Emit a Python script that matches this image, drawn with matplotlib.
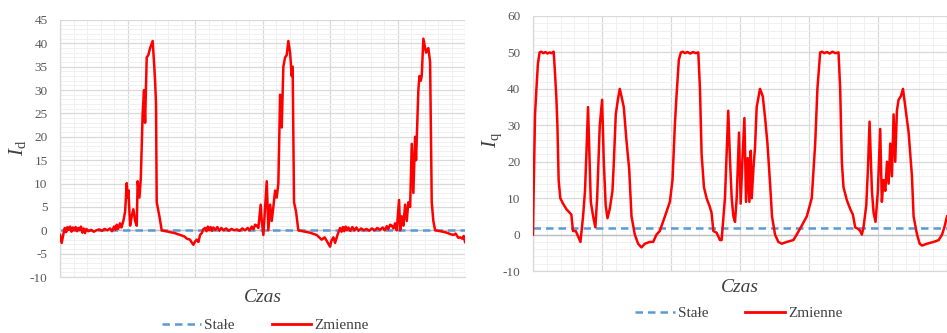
import matplotlib
matplotlib.use('Agg')
import matplotlib.pyplot as plt
from matplotlib.lines import Line2D
from matplotlib.ticker import MultipleLocator

plt.rcParams['font.family'] = ['Liberation Serif', 'DejaVu Serif']
plt.rcParams['mathtext.fontset'] = 'custom'
plt.rcParams['mathtext.rm'] = 'Liberation Serif'
plt.rcParams['mathtext.it'] = 'Liberation Serif:italic'
plt.rcParams['axes.unicode_minus'] = False

# dane: Id (lewy wykres)
id_time = [0, 1.2, 2.5, 3.5, 4.5, 5.5, 6.5, 7.5, 8.5, 9.5, 10.5, 11.5, 12.5, 13.5, 14.5, 15.5,
           16.5, 17.5, 18.5, 19.5, 21, 23, 25, 27, 29, 31, 33, 35, 37, 38.5, 40, 41, 42, 43,
           44.4, 45.5, 46.9, 48.2, 49.4, 50.0, 50.6, 51.9, 53.1, 54.3, 55.6, 56.8, 57.5, 58.8,
           59.8, 61.2, 62.2, 63.0, 64.2, 65.4, 66.7, 68.6, 69.6, 70.4, 71.1, 71.6, 73.6, 75.3,
           80, 85, 88.9, 92, 94, 96.3, 97.5, 98.8, 100, 101.2, 102.5, 103.7, 105, 106, 107.4,
           108.5, 109.5, 110.5, 111.5, 112.5, 113.5, 115, 116.5, 118, 119.5, 121, 123, 125,
           127, 129, 131, 133, 135, 137, 139, 140.5, 142, 143.2, 144.5, 145.7, 146.9, 148.6,
           149.4, 150.6, 151.9, 153.1, 154.3, 155.6, 156.8, 158.0, 159.3, 160.5, 161.7, 163.0,
           164.2, 165.4, 166.7, 167.9, 169.1, 170.4, 171.6, 172.3, 173.3, 174.8, 176.5, 180,
           185, 190.1, 193.8, 196, 198, 200.0, 201, 202.5, 203.7, 205.5, 207.4, 208.5, 209.5,
           210.5, 211.5, 212.5, 213.5, 215, 216.5, 218, 219.5, 221, 223, 225, 227, 229, 231,
           233, 235, 237, 239, 240.5, 242.0, 243, 244.5, 245.7, 247, 248.1, 249.4, 251.1,
           251.9, 253.1, 254.3, 255.6, 256.8, 258.0, 259.3, 260.5, 261.7, 263.0, 263.7, 265.4,
           266.2, 267.2, 267.9, 269.1, 271.1, 272.8, 274.1, 275.3, 276.5, 277.8, 282, 286.4,
           289, 291.4, 293, 295, 296.3, 298, 299, 300]
id_value = [-1.0, -2.7, -0.8, 0.5, -0.4, 0.7, 0.1, 0.8, -0.3, 0.6, 0.0, 0.7, -0.2, 0.5, 0.1, 0.8,
            -0.5, 0.4, -0.6, 0.3, -0.2, 0.1, -0.3, 0.0, 0.2, -0.1, 0.3, 0.0, 0.4, -0.2, 0.8, 0.1,
            1.2, 0.3, 1.5, 0.6, 2.0, 4.0, 10.1, 7.0, 8.6, 1.0, 3.0, 4.5, 2.0, 1.0, 10.5, 7.0,
            11.0, 25.0, 30.0, 23.0, 37.0, 37.5, 39.0, 40.5, 36.0, 32.0, 27.0, 6.0, 3.0, 0.0,
            -0.3, -0.6, -1.0, -1.3, -1.8, -2.0, -2.6, -3.1, -2.4, -2.0, -2.5, -1.0, -0.6, 0.2, 0.5,
            -0.2, 0.8, 0.0, 0.7, -0.1, 0.6, 0.1, 0.7, -0.1, 0.5, 0.0, 0.4, -0.1,
            0.3, 0.0, 0.2, -0.1, 0.4, 0.0, 0.5, 0.0, 0.8, 0.2, 1.2, 1.0, 0.5, 5.5,
            2.0, -1.0, 5.0, 10.5, 0.0, 5.5, 2.0, 5.0, 8.5, 7.0, 10.0, 29.0,
            22.0, 35.0, 37.0, 37.5, 40.5, 38.0, 33.0, 35.0, 6.0, 4.0, 0.0, -0.2,
            -0.5, -1.0, -2.0, -1.5, -2.5, -3.5, -2.2, -1.5, -2.7, -1.0, 0.5, -0.3, 0.7,
            -0.2, 0.8, 0.0, 0.6, -0.1, 0.7, 0.0, 0.6, -0.1, 0.4, 0.0, 0.3, -0.1, 0.4,
            0.0, 0.5, 0.1, 0.6, 0.0, 0.9, 0.2, 1.2, 1.0, 0.4, 1.5, 0.0, 6.5,
            0.0, 3.0, 1.0, 5.5, 2.0, 6.0, 5.0, 18.5, 8.0, 20.0, 15.0, 30.0,
            33.0, 32.0, 33.0, 41.0, 38.0, 39.0, 36.0, 6.0, 2.0, 0.0, -0.2, -0.5,
            -0.8, -1.0, -0.7, -1.6, -1.5, -1.8, -1.2, -2.5]
id_const = 0.0

# dane: Iq (prawy wykres)
iq_time = [0, 0.5, 1.5, 2.5, 3.6, 4.8, 6, 7.5, 9, 10.5, 12, 13.5, 15, 15.7, 16.9, 17.7, 18.6,
           19.8, 21.8, 24.2, 26.6, 27.8, 29.0, 31.0, 32.7, 34.4, 36.3, 37.7, 38.7, 39.9, 41.1,
           41.9, 43.6, 45.2, 46.5, 48.4, 50.1, 51.3, 52.7, 54.0, 55.6, 57.6, 58.6, 60.0, 61.5,
           62.9, 64.1, 65.8, 67.7, 69.7, 71.4, 73.8, 76.2, 78.6, 81.1, 84.7, 87.1, 89.5, 91.9,
           95.6, 99.2, 101.1, 102.8, 104.0, 105.7, 107.2, 108.5, 110, 112, 114, 116, 118, 119.8,
           121.0, 122.2, 123.9, 125.8, 127.8, 129.4, 130.7, 133.1, 135.5, 136.7, 139.1, 140.3,
           141.5, 142.8, 144.0, 145.2, 146.4, 147.6, 149.3, 150.5, 151.7, 153.2, 154.4, 155.6,
           156.8, 157.8, 158.5, 159.7, 160.9, 162.1, 164.5, 166.5, 168.2, 169.9, 171.8, 173.2,
           175.4, 177.8, 180.3, 183.9, 188.7, 191.1, 194.8, 198.4, 202.0, 204.5, 206.1, 208.1,
           209.5, 211, 213, 215, 217, 219, 221.4, 222.6, 223.8, 225.0, 227.4, 229.9, 231.8,
           233.5, 235.9, 237.1, 238.3, 239.5, 241.5, 242.7, 243.9, 245.6, 246.8, 248.2, 249.9,
           251.6, 252.8, 254.0, 255.3, 256.5, 257.7, 258.9, 260.1, 261.3, 262.5, 263.7, 264.9,
           266.6, 268.1, 269.8, 272.2, 274.6, 275.8, 278.3, 280.2, 281.9, 285.5, 290.3, 294.0,
           296.4, 298.1, 300]
iq_value = [0, 12, 33, 40, 47, 50.0, 50.2, 49.8, 50.1, 49.7, 50.0, 49.8, 50.2, 46, 38, 30, 15,
            10, 8.5, 7, 6, 5.5, 1, 1, -0.5, -2, 5, 12, 22, 35, 20,
            9, 5, 2, 10, 30, 37, 20, 8, 4.5, 7, 12, 20, 33, 37,
            40, 38, 35, 26, 18, 5, 0, -2.5, -3.5, -2.5, -2, -2, 0, 1,
            5, 9, 15, 30, 38, 48, 50, 50.2, 49.8, 50.1, 49.7, 50.1, 49.8, 50.0,
            40, 22, 13, 10, 8, 6, 1, 0.5, -1.5, -1.5, 10, 22,
            34, 20, 10, 5, 3.5, 10, 28, 8.5, 20, 32, 9, 21,
            9, 23, 10, 18, 24, 35, 40, 38, 32, 25, 14, 5,
            0, -2, -2.5, -2, -1.5, 0, 2.5, 5, 10, 25, 40, 50,
            50.2, 49.8, 50.1, 49.7, 50.2, 49.8, 50.0, 40, 20, 13, 9.5, 7, 5.5,
            2, 1.5, 1, 0, 2, 8, 18, 31, 12, 6, 3.5, 12,
            29, 9, 15, 12, 20, 14, 25, 16, 33, 20, 34, 37,
            38, 40, 35, 28, 16, 5, 0, -2.5, -3, -2.5, -2, -1.5,
            0, 2, 5]
iq_const = 1.7

red = '#ff0000'
blue = '#5b9bd5'
tick_col = '#595959'

fig = plt.figure(figsize=(9.47, 3.33), dpi=100)
ax1 = fig.add_axes([0.0634, 0.168, 0.4277, 0.772])
ax2 = fig.add_axes([0.5628, 0.186, 0.4372, 0.766])


def style(ax, ymin, ymax, step, minor):
    ax.set_xlim(0, 300)
    ax.set_ylim(ymin, ymax)
    ax.xaxis.set_major_locator(MultipleLocator(50))
    ax.xaxis.set_minor_locator(MultipleLocator(10))
    ax.yaxis.set_major_locator(MultipleLocator(step))
    ax.yaxis.set_minor_locator(MultipleLocator(minor))
    ax.grid(which='major', color='#d9d9d9', lw=0.9)
    ax.grid(which='minor', color='#f0f0f0', lw=0.7)
    ax.set_axisbelow(True)
    ax.set_xticklabels([])
    ax.tick_params(which='both', length=0)
    ax.tick_params(axis='y', labelsize=9.5, labelcolor=tick_col, pad=9)
    for s in ['top', 'right']:
        ax.spines[s].set_visible(False)
    for s in ['left', 'bottom']:
        ax.spines[s].set_color('#d9d9d9')
        ax.spines[s].set_linewidth(0.9)
    ax.axhline(0, color='#bfbfbf', lw=1.0, zorder=1)


style(ax1, -10, 45, 5, 1)
style(ax2, -10, 60, 10, 2)

ax1.axhline(id_const, color=blue, lw=1.8, ls=(0, (3, 2)), zorder=2)
ax1.plot(id_time, id_value, color=red, lw=1.8, zorder=3)
ax2.axhline(iq_const, color=blue, lw=1.8, ls=(0, (3, 2)), zorder=2)
ax2.plot(iq_time, iq_value, color=red, lw=1.8, zorder=3)

fig.text(0.278, 0.108, 'Czas', style='italic', fontsize=14, color='#404040', ha='center', va='center')
fig.text(0.781, 0.138, 'Czas', style='italic', fontsize=14, color='#404040', ha='center', va='center')
fig.text(0.019, 0.556, r'$\mathit{I}_{\mathrm{d}}$', fontsize=15, color='#404040', rotation=90,
         ha='center', va='center')
fig.text(0.52, 0.58, r'$\mathit{I}_{\mathrm{q}}$', fontsize=15, color='#404040', rotation=90,
         ha='center', va='center')

handles = [Line2D([], [], color=blue, lw=1.8, ls=(0, (3, 2))),
           Line2D([], [], color=red, lw=2.0)]
labels = ['Stałe', 'Zmienne']
fig.legend(handles, labels, loc='center', bbox_to_anchor=(0.28, 0.024), ncol=2, frameon=False,
           fontsize=11, handlelength=2.6, handletextpad=0.2, columnspacing=2.4,
           labelcolor='#404040')
fig.legend(handles, labels, loc='center', bbox_to_anchor=(0.78, 0.06), ncol=2, frameon=False,
           fontsize=11, handlelength=2.6, handletextpad=0.2, columnspacing=2.4,
           labelcolor='#404040')

fig.savefig('out.png', dpi=100)
